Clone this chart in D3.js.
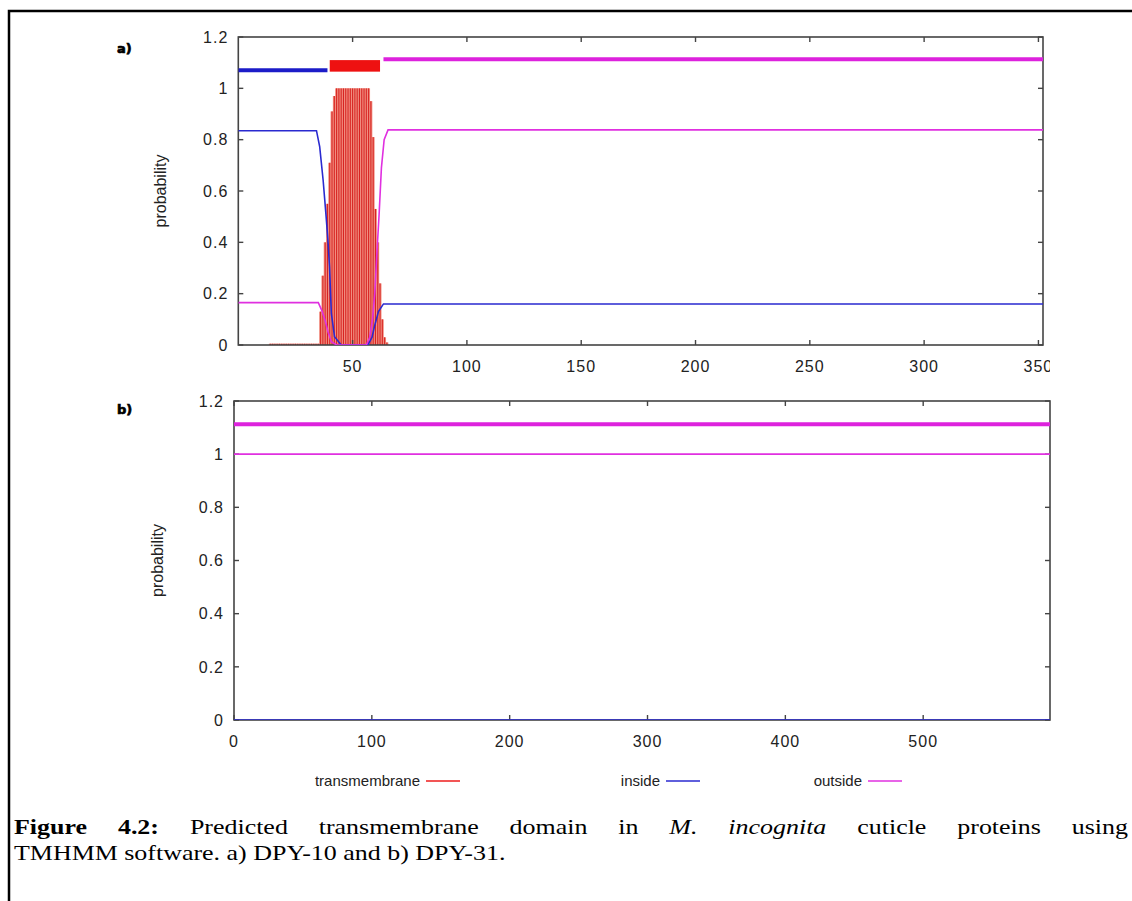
<!DOCTYPE html>
<meta charset="utf-8">
<style>
body { margin: 0; background: #fff; }
text { font-family: "Liberation Sans", Arial, sans-serif; }
.tick-label { font-size: 16px; fill: #222; letter-spacing: 1px; }
.ylab { font-size: 16px; fill: #222; }
.legend text { font-size: 15px; fill: #222; }
.panel-tag { font-family: "DejaVu Sans", sans-serif; font-size: 13px; font-weight: 900; stroke: #000; stroke-width: 0.7px; }
.caption { font-family: "Liberation Serif", "Times New Roman", serif; font-size: 22px; fill: #000; }
</style>
<svg width="1132" height="901"></svg>
<script src="https://d3js.org/d3.v7.min.js"></script>
<script>

// ---- data ----
var yTicks = [0, 0.2, 0.4, 0.6, 0.8, 1, 1.2];
var xTicksA = [50, 100, 150, 200, 250, 300, 350];
var xTicksB = [0, 100, 200, 300, 400, 500];

// DPY-10, 352 residues: [position, probability]
var insideA = [[0,0.835],[34.2,0.835],[35.6,0.773],[37.1,0.643],[38.3,0.513],[39.2,0.409],[39.9,0.305],
  [40.7,0.123],[42.1,0.032],[45,0],[56.7,0],[58.5,0.03],[59.5,0.07],[61.3,0.13],[63.5,0.16],[352,0.16]];
var outsideA = [[0,0.165],[35,0.165],[36.5,0.135],[38,0.095],[39.3,0.05],[40.7,0.013],[43,0],[56,0],
  [57.5,0.03],[58.7,0.1],[59.7,0.2],[60.7,0.37],[61.6,0.51],[62.6,0.69],[63.8,0.8],[65.5,0.838],[352,0.838]];
var tmStartA = 14;
var tmA = [0.005,0.005,0.005,0.005,0.005,0.005,0.005,0.005,0.005,0.005,0.005,
  0.005,0.005,0.005,0.005,0.005,0.005,0.005,0.005,0.005,0.005,0.005,
  0.13,0.27,0.40,0.55,0.71,0.91,0.97,
  1,1,1,1,1,1,1,1,1,1,1,1,1,1,1,
  0.95,0.81,0.53,0.40,0.24,0.10,0.03,0.01];
// predicted topology segments [from, to]
var segInsideA = [[0, 39]];
var segTmA = [[40, 62]];
var segOutsideA = [[63.5, 352]];

// DPY-31, ~592 residues
var insideB = [[0,0],[592,0]];
var outsideB = [[0,1],[592,1]];
var tmStartB = 1;
var tmB = [];
var segInsideB = [];
var segTmB = [];
var segOutsideB = [[0, 592]];

var levelInside = 1.07, levelOutside = 1.113, tmLow = 1.065, tmHigh = 1.11;

var colTm = "#ee1c1c", colTmFill = "#f08a7c", colIn = "#2a2ad0", colOut = "#e030e0";

var svg = d3.select("svg");
svg.append("rect").attr("width", 1132).attr("height", 901).attr("fill", "#fff");

// outer frame of the figure
svg.append("rect")
    .attr("x", 9).attr("y", 11).attr("width", 1300).attr("height", 1000)
    .attr("fill", "none").attr("stroke", "#000").attr("stroke-width", 2.5);

function drawPanel(p) {
  var x = d3.scaleLinear().domain([0, p.xMax]).range([p.left, p.right]);
  var y = d3.scaleLinear().domain([0, 1.2]).range([p.bottom, p.top]);
  var g = svg.append("g");

  var clipId = "clip" + p.tag;
  svg.append("clipPath").attr("id", clipId).append("rect")
      .attr("x", p.left).attr("y", p.top).attr("width", p.right - p.left).attr("height", p.bottom - p.top);

  // transmembrane impulses
  var step = x(1) - x(0);
  var bars = g.append("g").attr("clip-path", "url(#" + clipId + ")");
  bars.selectAll("rect").data(p.tm).enter().append("rect")
      .attr("x", function(d, i) { return x(p.tmStart + i) - step / 2 - 0.3; })
      .attr("width", step + 0.6)
      .attr("y", function(d) { return y(d); })
      .attr("height", function(d) { return y(0) - y(d); })
      .attr("fill", colTmFill);
  bars.selectAll("line").data(p.tm).enter().append("line")
      .attr("x1", function(d, i) { return x(p.tmStart + i); })
      .attr("x2", function(d, i) { return x(p.tmStart + i); })
      .attr("y1", y(0))
      .attr("y2", function(d) { return y(d); })
      .attr("stroke", "#d41414").attr("stroke-width", 0.9);

  // frame
  g.append("rect").attr("x", p.left).attr("y", p.top)
      .attr("width", p.right - p.left).attr("height", p.bottom - p.top)
      .attr("fill", "none").attr("stroke", "#444").attr("stroke-width", 1.6);

  // inward ticks on all sides
  var tl = 5;
  p.xTicks.forEach(function(t) {
    g.append("line").attr("x1", x(t)).attr("x2", x(t)).attr("y1", p.bottom).attr("y2", p.bottom - tl)
        .attr("stroke", "#444").attr("stroke-width", 1.4);
    g.append("line").attr("x1", x(t)).attr("x2", x(t)).attr("y1", p.top).attr("y2", p.top + tl)
        .attr("stroke", "#444").attr("stroke-width", 1.4);
  });
  yTicks.forEach(function(t) {
    g.append("line").attr("x1", p.left).attr("x2", p.left + tl).attr("y1", y(t)).attr("y2", y(t))
        .attr("stroke", "#444").attr("stroke-width", 1.4);
    g.append("line").attr("x1", p.right).attr("x2", p.right - tl).attr("y1", y(t)).attr("y2", y(t))
        .attr("stroke", "#444").attr("stroke-width", 1.4);
  });

  // tick labels
  var labClip = "lab" + p.tag;
  svg.append("clipPath").attr("id", labClip).append("rect")
      .attr("x", 0).attr("y", 0).attr("width", p.labelClipX).attr("height", 901);
  var lg = g.append("g").attr("clip-path", "url(#" + labClip + ")");
  lg.selectAll("text.x").data(p.xTicks).enter().append("text")
      .attr("class", "tick-label x")
      .attr("x", function(d) { return x(d); })
      .attr("y", p.bottom + 27)
      .attr("text-anchor", "middle")
      .text(function(d) { return d; });
  g.selectAll("text.y").data(yTicks).enter().append("text")
      .attr("class", "tick-label y")
      .attr("x", p.left - 10)
      .attr("y", function(d) { return y(d); })
      .attr("dy", "0.36em")
      .attr("text-anchor", "end")
      .text(function(d) { return d; });

  g.append("text").attr("class", "ylab")
      .attr("transform", "translate(" + p.ylabX + "," + ((p.top + p.bottom) / 2) + ") rotate(-90)")
      .attr("text-anchor", "middle")
      .text("probability");

  g.append("text").attr("class", "panel-tag")
      .attr("x", 117).attr("y", p.tagY)
      .text(p.tag + ")");

  // curves
  var line = d3.line().x(function(d) { return x(d[0]); }).y(function(d) { return y(d[1]); });
  var cg = g.append("g").attr("clip-path", "url(#" + clipId + ")");
  cg.append("path").datum(p.inside).attr("d", line)
      .attr("fill", "none").attr("stroke", colIn).attr("stroke-width", 1.6);
  cg.append("path").datum(p.outside).attr("d", line)
      .attr("fill", "none").attr("stroke", colOut).attr("stroke-width", 1.6);

  // topology bars on top
  cg.selectAll("line.si").data(p.segIn).enter().append("line")
      .attr("x1", function(d) { return x(d[0]); }).attr("x2", function(d) { return x(d[1]); })
      .attr("y1", y(levelInside)).attr("y2", y(levelInside))
      .attr("stroke", "#1c1cc8").attr("stroke-width", 4);
  cg.selectAll("rect.st").data(p.segTm).enter().append("rect")
      .attr("x", function(d) { return x(d[0]); })
      .attr("width", function(d) { return x(d[1]) - x(d[0]); })
      .attr("y", y(tmHigh)).attr("height", y(tmLow) - y(tmHigh))
      .attr("fill", "#ee1111");
  cg.selectAll("line.so").data(p.segOut).enter().append("line")
      .attr("x1", function(d) { return x(d[0]); }).attr("x2", function(d) { return x(d[1]); })
      .attr("y1", y(levelOutside)).attr("y2", y(levelOutside))
      .attr("stroke", "#dd22dd").attr("stroke-width", 4);
}

drawPanel({tag: "a", left: 238.3, right: 1043, top: 37, bottom: 345, xMax: 352, xTicks: xTicksA,
  inside: insideA, outside: outsideA, tm: tmA, tmStart: tmStartA,
  segIn: segInsideA, segTm: segTmA, segOut: segOutsideA, labelClipX: 1050, ylabX: 166, tagY: 53});
drawPanel({tag: "b", left: 234, right: 1050, top: 401, bottom: 720, xMax: 592, xTicks: xTicksB,
  inside: insideB, outside: outsideB, tm: tmB, tmStart: tmStartB,
  segIn: segInsideB, segTm: segTmB, segOut: segOutsideB, labelClipX: 1132, ylabX: 163, tagY: 414});

// legend
var legendItems = [["transmembrane", colTm, 420], ["inside", colIn, 660], ["outside", colOut, 862]];
var leg = svg.append("g").attr("class", "legend");
legendItems.forEach(function(d) {
  leg.append("text").attr("x", d[2]).attr("y", 786).attr("text-anchor", "end").text(d[0]);
  leg.append("line").attr("x1", d[2] + 6).attr("x2", d[2] + 40).attr("y1", 781).attr("y2", 781)
      .attr("stroke", d[1]).attr("stroke-width", 1.5);
});

// caption: the scanned figure is stretched horizontally, first line justified
var capLeft = 14, capRight = 1128, stretch = 1.18;
var cap = svg.append("g").attr("transform", "translate(" + capLeft + ",0) scale(" + stretch + ",1)");
var line1 = [["Figure", "bold"], ["4.2:", "bold"], ["Predicted"], ["transmembrane"], ["domain"], ["in"],
  ["M.", "italic"], ["incognita", "italic"], ["cuticle"], ["proteins"], ["using"]];
var words = line1.map(function(w) {
  var t = cap.append("text").attr("class", "caption").attr("y", 834).text(w[0]);
  if (w[1] === "bold") t.attr("font-weight", "bold");
  if (w[1] === "italic") t.attr("font-style", "italic");
  return t;
});
var widths = words.map(function(t) { return t.node().getComputedTextLength(); });
var span = (capRight - capLeft) / stretch;
var gap = (span - d3.sum(widths)) / (words.length - 1);
var cx = 0;
words.forEach(function(t, i) { t.attr("x", cx); cx += widths[i] + gap; });

cap.append("text").attr("class", "caption").attr("x", 0).attr("y", 860)
    .text("TMHMM software. a) DPY-10 and b) DPY-31.");

</script>
